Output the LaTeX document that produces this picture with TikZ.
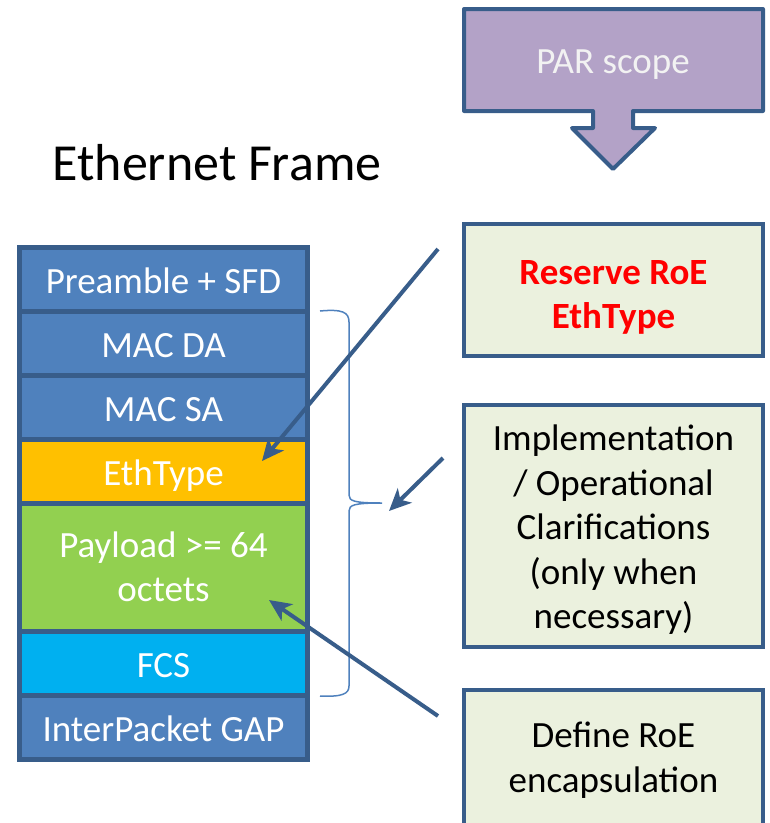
\documentclass[tikz,border=0pt]{standalone}
\usepackage{fontspec}
\setmainfont{Carlito}
\usepackage{tikz}
\usetikzlibrary{positioning}
\usetikzlibrary{arrows.meta}

\definecolor{edgeblue}{HTML}{385D8A}
\definecolor{rowblue}{HTML}{4F81BD}
\definecolor{ethgold}{HTML}{FFC000}
\definecolor{paygreen}{HTML}{92D050}
\definecolor{fcscyan}{HTML}{00B0F0}
\definecolor{parpurple}{HTML}{B3A2C7}
\definecolor{notebg}{HTML}{EBF1DE}

\begin{document}
\begin{tikzpicture}[x=1pt, y=-1pt,
    field/.style={draw=edgeblue, line width=5pt, fill=rowblue, text=white,
        minimum width=288pt, inner sep=0pt, outer sep=0pt, align=center,
        font=\fontsize{37}{44}\selectfont},
    oneline/.style={field, minimum height=64pt, text height=28pt, text depth=0pt},
    note/.style={draw=edgeblue, line width=4pt, fill=notebg, minimum width=299pt,
        inner sep=0pt, align=center, font=\fontsize{37}{44.5}\selectfont},
    pointer/.style={edgeblue, line width=4pt,
        -{Stealth[length=22pt,width=20pt,inset=6pt]}}]
    \useasboundingbox (0,0) rectangle (770,823);
    \clip (0,0) rectangle (770,823);
    % title
    \node[font=\fontsize{52}{62}\selectfont, anchor=base] (title) at (217,180) {Ethernet Frame};
    % frame fields
    \node[oneline] (pre) at (163.5,279) {Preamble + SFD};
    \node[oneline, below=0pt of pre] (da) {MAC DA};
    \node[oneline, below=0pt of da] (sa) {MAC SA};
    \node[oneline, fill=ethgold, below=0pt of sa] (eth) {EthType};
    \node[field, minimum height=128pt, fill=paygreen, below=0pt of eth] (pay) %
        {Payload >= 64\\octets};
    \node[oneline, fill=fcscyan, below=0pt of pay] (fcs) {FCS};
    \node[oneline, below=0pt of fcs] (ipg) {InterPacket GAP};
    % brace
    \coordinate (tip) at (382,503);
    \draw[rowblue, line width=1.5pt] (320,311) .. controls (342,309) and (349,312) .. (349,322) %
        -- (349,495) .. controls (349,501) and (354,503) .. (tip) %
        .. controls (354,503) and (349,505) .. (349,511) %
        -- (349,686) .. controls (349,694) and (342,697) .. (320,696);
    % PAR scope arrow
    \draw[edgeblue, line width=4pt, fill=parpurple, line join=round] %
        (464,9) -- (763,9) -- (763,111) -- (633,111) -- (633,128) -- (655,128) %
        -- (613,169) -- (572,128) -- (593,128) -- (593,111) -- (464,111) -- cycle;
    \node[text=white!95!black, font=\fontsize{37}{44}\selectfont, anchor=base] (par) %
        at (613,73) {PAR scope};
    % notes
    \node[note, minimum height=132pt, text=red, %
        font=\fontsize{37}{44}\selectfont\bfseries] (res) at (613.5,290) %
        {\rule{0pt}{38pt}Reserve RoE\\EthType};
    \node[note, minimum height=242pt] (impl) at (613.5,526) %
        {\rule{0pt}{33pt}Implementation\\/ Operational\\Clarifications\\(only when\\necessary)};
    \node[note, minimum height=140pt] (def) at (613.5,760) {Define RoE\\encapsulation};
    % pointers
    \draw[pointer] ([shift={(-24,-41)}]res.west) -- ([shift={(98.5,-10)}]eth.center);
    \draw[pointer] ([shift={(-19,-68)}]impl.west) -- ([shift={(7,8)}]tip);
    \draw[pointer] ([shift={(-24,-44)}]def.west) -- ([shift={(105.5,33)}]pay.center);
\end{tikzpicture}
\end{document}
